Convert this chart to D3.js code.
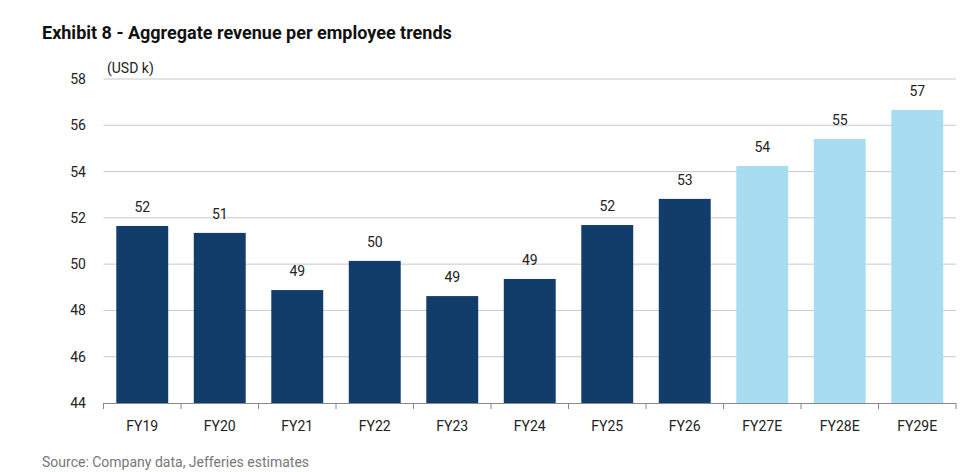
<!DOCTYPE html>
<html><head><meta charset="utf-8">
<script src="https://cdn.jsdelivr.net/npm/d3@7"></script>
<style>body{margin:0;background:#fff}svg{font-family:Roboto,"Open Sans",sans-serif}</style>
</head><body><svg id="c" width="977" height="472"></svg>
<script>
const categories=["FY19","FY20","FY21","FY22","FY23","FY24","FY25","FY26","FY27E","FY28E","FY29E"];
const values=[51.65,51.35,48.88,50.14,48.62,49.36,51.69,52.82,54.24,55.41,56.66];
const labels=["52","51","49","50","49","49","52","53","54","55","57"];
const estimate=[false,false,false,false,false,false,false,false,true,true,true];
const yTicks=[44,46,48,50,52,54,56,58];
const svg=d3.select("#c");
const x=d3.scaleBand().domain(categories).range([103.5,956]).paddingInner(0.33).paddingOuter(0.165);
const y=d3.scaleLinear().domain([44,58]).range([403,79]);
svg.append("g").selectAll("line").data(yTicks.slice(1)).join("line")
 .attr("x1",103.5).attr("x2",956).attr("y1",d=>y(d)).attr("y2",d=>y(d)).attr("stroke","#c8c8c8").attr("stroke-width",1);
svg.append("g").selectAll("text").data(yTicks).join("text")
 .attr("x",86).attr("y",d=>y(d)+5).attr("text-anchor","end").attr("font-size",14).attr("fill","#222").text(d=>d);
svg.append("g").selectAll("rect").data(categories).join("rect")
 .attr("x",d=>x(d)).attr("width",x.bandwidth()).attr("y",(d,i)=>y(values[i])).attr("height",(d,i)=>403-y(values[i]))
 .attr("fill",(d,i)=>estimate[i]?"#a8dcf0":"#123d6b");
svg.append("g").selectAll("text").data(categories).join("text")
 .attr("x",d=>x(d)+x.bandwidth()/2).attr("y",(d,i)=>y(values[i])-14).attr("text-anchor","middle").attr("font-size",14).attr("fill","#222").text((d,i)=>labels[i]);
svg.append("line").attr("x1",103.5).attr("x2",956).attr("y1",403.5).attr("y2",403.5).attr("stroke","#888");
const step=x.step();
svg.append("g").selectAll("line").data(d3.range(categories.length+1)).join("line")
 .attr("x1",d=>103.5+d*step).attr("x2",d=>103.5+d*step).attr("y1",403).attr("y2",409).attr("stroke","#888");
svg.append("g").selectAll("text").data(categories).join("text")
 .attr("x",d=>x(d)+x.bandwidth()/2).attr("y",431).attr("text-anchor","middle").attr("font-size",14).attr("fill","#222").text(d=>d);
svg.append("text").attr("x",107).attr("y",73).attr("font-size",14).attr("fill","#222").text("(USD k)");
svg.append("text").attr("x",42).attr("y",39).attr("font-size",18).attr("font-weight","bold").attr("fill","#111").text("Exhibit 8 - Aggregate revenue per employee trends");
svg.append("text").attr("x",42).attr("y",467).attr("font-size",14).attr("fill","#777").text("Source: Company data, Jefferies estimates");
</script></body></html>
